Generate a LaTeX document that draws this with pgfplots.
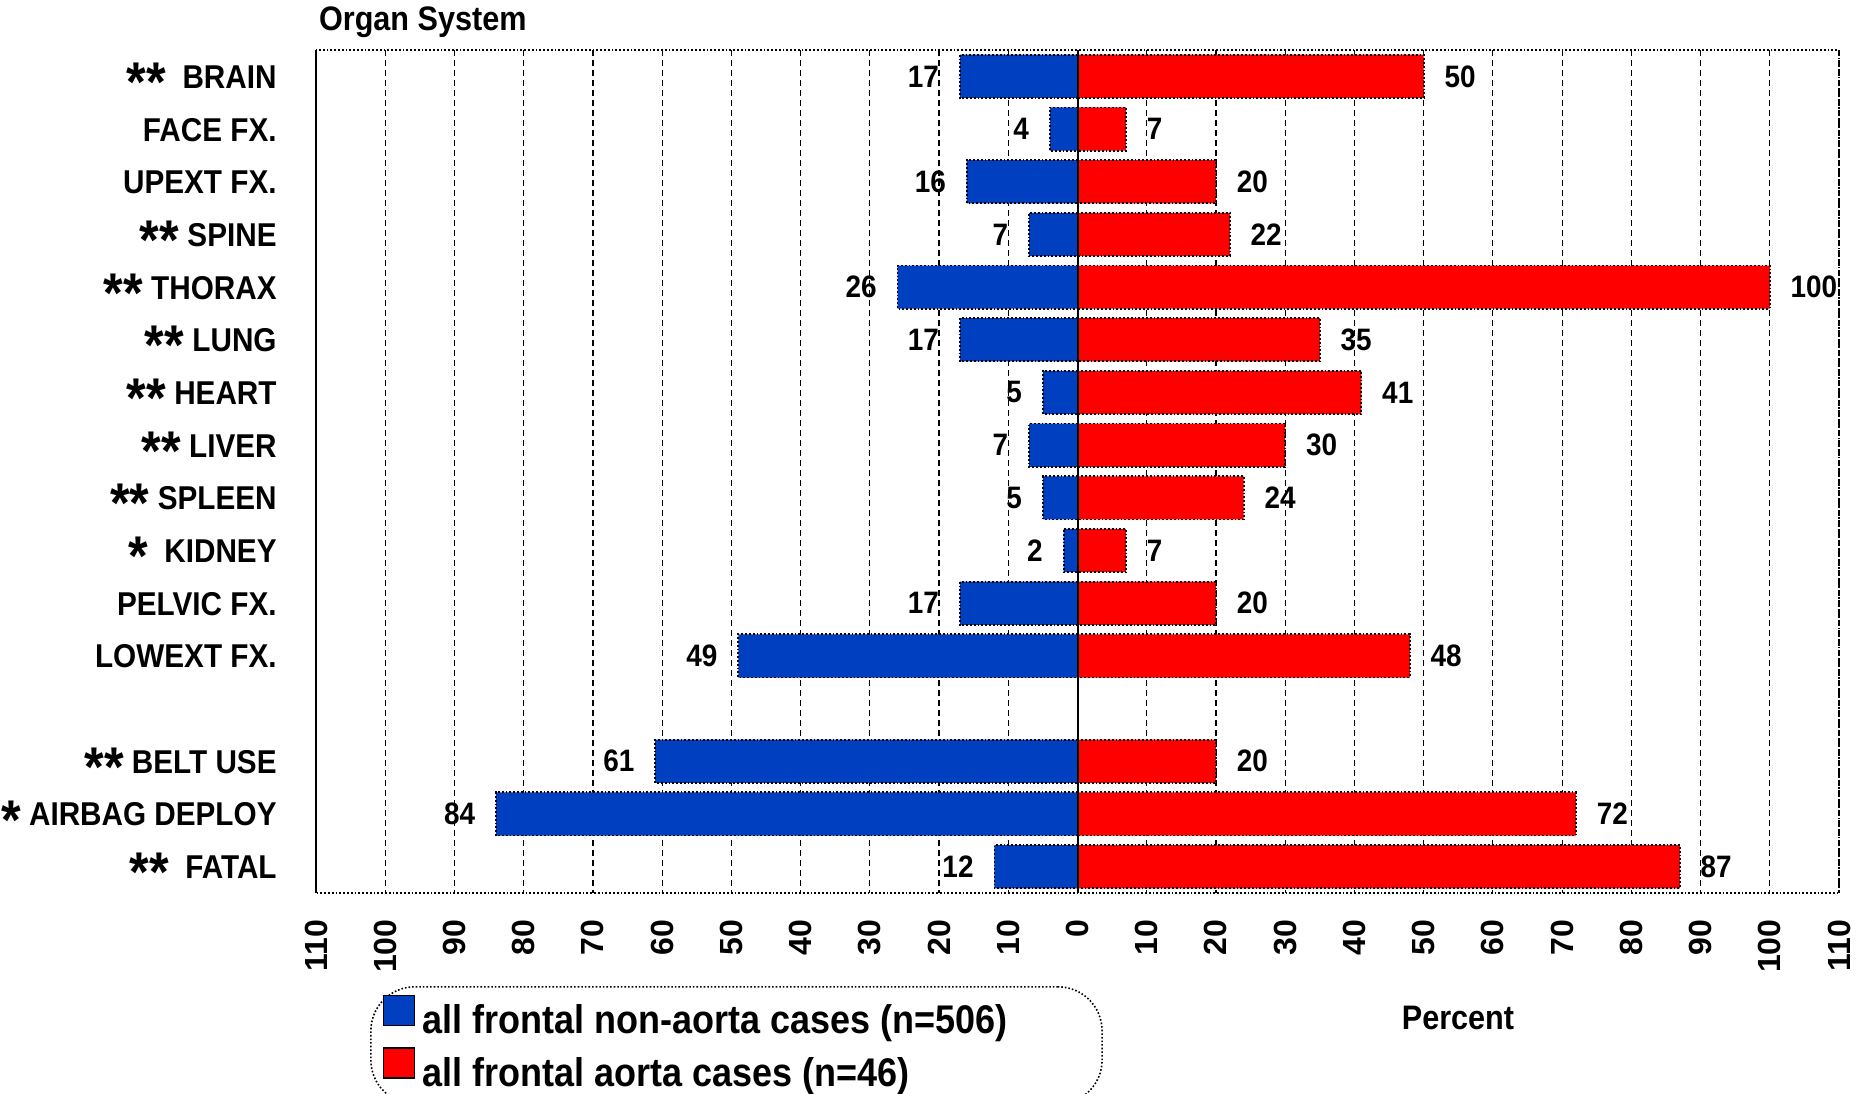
\documentclass[border=0pt]{standalone}
\usepackage{fontspec}
\setmainfont{Liberation Sans}[FakeStretch=0.9]
\newfontfamily\tickfont{Liberation Sans}
\usepackage{pgfplots}
\pgfplotsset{compat=1.18}
\usepackage{pgfplotstable}
\definecolor{barblue}{RGB}{0,64,192}
\definecolor{barred}{RGB}{255,0,0}
\newcommand{\st}{\smash{\raisebox{-0.75ex}{\fontsize{28}{28}\selectfont *}}}

% pos  blue(negative)  bluelab  red
\pgfplotstableread{
pos blue bluelab red
0  -17 17  50
1  -4  4   7
2  -16 16  20
3  -7  7   22
4  -26 26  100
5  -17 17  35
6  -5  5   41
7  -7  7   30
8  -5  5   24
9  -2  2   7
10 -17 17  20
11 -49 49  48
13 -61 61  20
14 -84 84  72
15 -12 12  87
}\datatable

\begin{document}
\begin{tikzpicture}
\begin{axis}[
  scale only axis,
  width=761.5pt, height=421.5pt,
  at={(0pt,0pt)}, anchor=south west,
  xmin=-110, xmax=110, ymin=-0.5, ymax=15.5,
  y dir=reverse,
  clip=false,
  /pgf/number format/assume math mode=true,
  xtick={-110,-100,...,110},
  xticklabels={110,100,90,80,70,60,50,40,30,20,10,0,10,20,30,40,50,60,70,80,90,100,110},
  ytick={0,1,2,3,4,5,6,7,8,9,10,11,13,14,15},
  yticklabels={{\st\st~~BRAIN},{FACE FX.},{UPEXT FX.},{\st\st\ SPINE},{\st\st\ THORAX},{\st\st\ LUNG},{\st\st\ HEART},{\st\st\ LIVER},{\st\st\ SPLEEN},{\st~~KIDNEY},{PELVIC FX.},{LOWEXT FX.},{\st\st\ BELT USE},{\st\ AIRBAG DEPLOY},{\st\st~~FATAL}},
  major tick length=0pt,
  xmajorgrids,
  major grid style={black, densely dashed, line width=0.6pt},
  axis line style={black, densely dotted, line width=0.9pt},
  xticklabel style={rotate=90, anchor=east, inner sep=0pt, font=\tickfont\bfseries\fontsize{16}{16}\selectfont},
  xticklabel shift=13pt,
  yticklabel style={anchor=east, inner sep=0pt, text height=12pt, text depth=0pt, font=\bfseries\fontsize{16.5}{18}\selectfont},
  yticklabel shift=19.5pt,
  nodes near coords align={horizontal},
  every node near coord/.append style={font=\bfseries\fontsize{15.5}{17}\selectfont, inner xsep=10pt, inner ysep=0pt, black, solid},
  legend style={at={(0.0355,-0.1103)}, anchor=north west, draw=black, densely dotted, line width=0.8pt,
    rounded corners=22pt, font=\bfseries\fontsize{20}{22}\selectfont,
    inner xsep=6pt, inner ysep=4pt, row sep=2pt,
    nodes={inner sep=0pt, text height=15pt, text depth=5pt},
    /tikz/every odd column/.append style={column sep=3.5pt}},
  legend cell align=left,
]
\addplot[xbar, bar width=0.82, bar shift=0pt, fill=barblue, draw=black, densely dotted, line width=0.9pt,
  nodes near coords, point meta=explicit,
  every node near coord/.append style={anchor=east},
  legend image code/.code={\draw[sharp corners,solid,fill=barblue,draw=black,line width=0.6pt] (0pt,-1pt) rectangle (15.5pt,14pt);}]
  table[x=blue, y=pos, meta=bluelab] {\datatable};
\addlegendentry{\makebox[334pt][l]{all frontal non-aorta cases (n=506)}}
\addplot[xbar, bar width=0.82, bar shift=0pt, fill=barred, draw=black, densely dotted, line width=0.9pt,
  nodes near coords, point meta=explicit,
  every node near coord/.append style={anchor=west},
  legend image code/.code={\draw[sharp corners,solid,fill=barred,draw=black,line width=0.6pt] (0pt,-1pt) rectangle (15.5pt,14pt);}]
  table[x=red, y=pos, meta=red] {\datatable};
\addlegendentry{\makebox[334pt][l]{all frontal aorta cases (n=46)}}
\draw[black, line width=1pt] (axis cs:0,-0.5) -- (axis cs:0,15.5);
\draw[black, line width=0.9pt] (axis cs:-110,-0.5) -- (axis cs:-110,15.5);
\end{axis}
\node[anchor=base west, font=\bfseries\fontsize{17}{19}\selectfont] at (-2pt,431pt) {Organ System};
\node[anchor=base, font=\bfseries\fontsize{17}{19}\selectfont] at (571pt,-68pt) {Percent};
\pgfresetboundingbox
\path (-158pt,-100pt) rectangle (778pt,446.5pt);
\end{tikzpicture}
\end{document}
